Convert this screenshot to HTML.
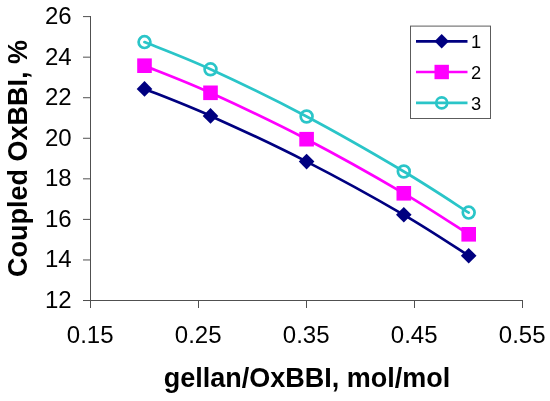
<!DOCTYPE html>
<html><head><meta charset="utf-8"><title>chart</title>
<style>
html,body{margin:0;padding:0;background:#fff;}
body{width:550px;height:401px;overflow:hidden;}
svg{display:block;will-change:transform;}
text{font-family:"Liberation Sans",sans-serif;}
</style></head><body>
<svg width="550" height="401" viewBox="0 0 550 401">
<rect x="0" y="0" width="550" height="401" fill="#ffffff"/>
<line x1="90.5" y1="16" x2="90.5" y2="308" stroke="#505050" stroke-width="1"/>
<line x1="83" y1="300.5" x2="523" y2="300.5" stroke="#505050" stroke-width="1"/>
<line x1="83" y1="16.60" x2="90.5" y2="16.60" stroke="#505050" stroke-width="1"/>
<text x="71.6" y="24.0" text-anchor="end" font-size="24" fill="#000">26</text>
<line x1="83" y1="57.16" x2="90.5" y2="57.16" stroke="#505050" stroke-width="1"/>
<text x="71.6" y="64.6" text-anchor="end" font-size="24" fill="#000">24</text>
<line x1="83" y1="97.72" x2="90.5" y2="97.72" stroke="#505050" stroke-width="1"/>
<text x="71.6" y="105.1" text-anchor="end" font-size="24" fill="#000">22</text>
<line x1="83" y1="138.28" x2="90.5" y2="138.28" stroke="#505050" stroke-width="1"/>
<text x="71.6" y="145.7" text-anchor="end" font-size="24" fill="#000">20</text>
<line x1="83" y1="178.84" x2="90.5" y2="178.84" stroke="#505050" stroke-width="1"/>
<text x="71.6" y="186.2" text-anchor="end" font-size="24" fill="#000">18</text>
<line x1="83" y1="219.40" x2="90.5" y2="219.40" stroke="#505050" stroke-width="1"/>
<text x="71.6" y="226.8" text-anchor="end" font-size="24" fill="#000">16</text>
<line x1="83" y1="259.96" x2="90.5" y2="259.96" stroke="#505050" stroke-width="1"/>
<text x="71.6" y="267.4" text-anchor="end" font-size="24" fill="#000">14</text>
<line x1="83" y1="300.52" x2="90.5" y2="300.52" stroke="#505050" stroke-width="1"/>
<text x="71.6" y="307.9" text-anchor="end" font-size="24" fill="#000">12</text>
<line x1="90.5" y1="300.5" x2="90.5" y2="308" stroke="#505050" stroke-width="1"/>
<text x="90.2" y="342.7" text-anchor="middle" font-size="24" fill="#000">0.15</text>
<line x1="198.5" y1="300.5" x2="198.5" y2="308" stroke="#505050" stroke-width="1"/>
<text x="198.2" y="342.7" text-anchor="middle" font-size="24" fill="#000">0.25</text>
<line x1="306.5" y1="300.5" x2="306.5" y2="308" stroke="#505050" stroke-width="1"/>
<text x="306.2" y="342.7" text-anchor="middle" font-size="24" fill="#000">0.35</text>
<line x1="414.5" y1="300.5" x2="414.5" y2="308" stroke="#505050" stroke-width="1"/>
<text x="414.2" y="342.7" text-anchor="middle" font-size="24" fill="#000">0.45</text>
<line x1="522.5" y1="300.5" x2="522.5" y2="308" stroke="#505050" stroke-width="1"/>
<text x="522.2" y="342.7" text-anchor="middle" font-size="24" fill="#000">0.55</text>
<path d="M144.50 88.90 C155.50 93.40 183.48 103.78 210.50 115.90 C237.52 128.02 274.38 145.12 306.60 161.60 C338.82 178.08 376.78 199.12 403.80 214.80 C430.82 230.48 457.88 248.88 468.70 255.70" fill="none" stroke="#000080" stroke-width="2.7" stroke-linecap="round"/>
<path d="M144.50 65.70 C155.50 70.22 183.48 80.55 210.50 92.80 C237.52 105.05 274.38 122.45 306.60 139.20 C338.82 155.95 376.78 177.45 403.80 193.30 C430.82 209.15 457.88 227.47 468.70 234.30" fill="none" stroke="#ff00ff" stroke-width="2.7" stroke-linecap="round"/>
<path d="M144.50 42.10 C155.50 46.63 183.48 56.90 210.50 69.30 C237.52 81.70 274.38 99.47 306.60 116.50 C338.82 133.53 376.78 155.48 403.80 171.50 C430.82 187.52 457.88 205.75 468.70 212.60" fill="none" stroke="#2ac5c8" stroke-width="2.7" stroke-linecap="round"/>
<path d="M144.50 81.10 L152.30 88.90 L144.50 96.70 L136.70 88.90 Z" fill="#000080"/>
<path d="M210.50 108.10 L218.30 115.90 L210.50 123.70 L202.70 115.90 Z" fill="#000080"/>
<path d="M306.60 153.80 L314.40 161.60 L306.60 169.40 L298.80 161.60 Z" fill="#000080"/>
<path d="M403.80 207.00 L411.60 214.80 L403.80 222.60 L396.00 214.80 Z" fill="#000080"/>
<path d="M468.70 247.90 L476.50 255.70 L468.70 263.50 L460.90 255.70 Z" fill="#000080"/>
<rect x="137.20" y="58.40" width="14.60" height="14.60" fill="#ff00ff"/>
<rect x="203.20" y="85.50" width="14.60" height="14.60" fill="#ff00ff"/>
<rect x="299.30" y="131.90" width="14.60" height="14.60" fill="#ff00ff"/>
<rect x="396.50" y="186.00" width="14.60" height="14.60" fill="#ff00ff"/>
<rect x="461.40" y="227.00" width="14.60" height="14.60" fill="#ff00ff"/>
<circle cx="144.50" cy="42.10" r="5.9" fill="none" stroke="#2ac5c8" stroke-width="2.7"/>
<circle cx="210.50" cy="69.30" r="5.9" fill="none" stroke="#2ac5c8" stroke-width="2.7"/>
<circle cx="306.60" cy="116.50" r="5.9" fill="none" stroke="#2ac5c8" stroke-width="2.7"/>
<circle cx="403.80" cy="171.50" r="5.9" fill="none" stroke="#2ac5c8" stroke-width="2.7"/>
<circle cx="468.70" cy="212.60" r="5.9" fill="none" stroke="#2ac5c8" stroke-width="2.7"/>
<rect x="410.5" y="26.1" width="80" height="92.4" fill="#fff" stroke="#5c5c5c" stroke-width="1"/>
<line x1="416" y1="41.3" x2="467.5" y2="41.3" stroke="#000080" stroke-width="2.7"/>
<path d="M441.70 34.10 L448.90 41.30 L441.70 48.50 L434.50 41.30 Z" fill="#000080"/>
<text x="470.9" y="48.2" font-size="18.3" fill="#000">1</text>
<line x1="416" y1="72.0" x2="467.5" y2="72.0" stroke="#ff00ff" stroke-width="2.7"/>
<rect x="434.50" y="64.80" width="14.40" height="14.40" fill="#ff00ff"/>
<text x="470.9" y="78.9" font-size="18.3" fill="#000">2</text>
<line x1="416" y1="102.9" x2="467.5" y2="102.9" stroke="#2ac5c8" stroke-width="2.7"/>
<circle cx="441.70" cy="102.90" r="5.45" fill="none" stroke="#2ac5c8" stroke-width="2.7"/>
<text x="470.9" y="109.8" font-size="18.3" fill="#000">3</text>
<text x="307.1" y="386.6" text-anchor="middle" font-size="27" font-weight="bold" fill="#000">gellan/OxBBI, mol/mol</text>
<text transform="translate(26.5,158.5) rotate(-90)" text-anchor="middle" font-size="27" font-weight="bold" fill="#000">Coupled OxBBI, %</text>
</svg>
</body></html>
